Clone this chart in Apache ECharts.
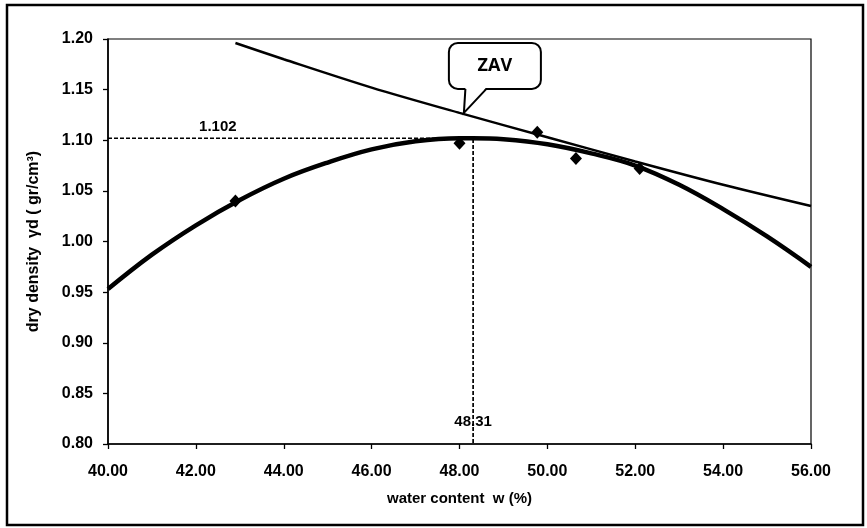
<!DOCTYPE html>
<html>
<head>
<meta charset="utf-8">
<script src="https://cdn.jsdelivr.net/npm/echarts@6/dist/echarts.min.js"></script>
<style>
  html, body { margin: 0; padding: 0; background: #fff; }
  #chart { width: 867px; height: 528px; }
</style>
</head>
<body>
<div id="chart"></div>
<script>
// Compaction test: measured points
const testW = [42.9, 48.0, 49.77, 50.65, 52.1];
const testDensity = [1.040, 1.097, 1.108, 1.082, 1.072];

// Fitted compaction curve, read at each water content
const curveW = [40, 41, 42, 43, 44, 45, 46, 47, 48, 48.31, 49, 50, 51, 52, 53, 54, 55, 56];
const curveDensity = [0.953, 0.987, 1.016, 1.041, 1.062, 1.078, 1.091, 1.099, 1.102, 1.102, 1.101, 1.096, 1.087, 1.075, 1.056, 1.032, 1.005, 0.975];

// Zero air voids line
const zavW = [42.9, 44, 46, 48, 50, 52, 54, 56];
const zavDensity = [1.196, 1.180, 1.152, 1.127, 1.103, 1.079, 1.056, 1.035];

// Optimum point (maximum dry density and optimum water content)
const optW = 48.31;
const optDensity = 1.102;

// Axis ticks
const xTicks = [40, 42, 44, 46, 48, 50, 52, 54, 56];
const yTicks = [0.80, 0.85, 0.90, 0.95, 1.00, 1.05, 1.10, 1.15, 1.20];

const FONT = '"Liberation Sans", Arial, sans-serif';
const zip = (a, b) => a.map((v, i) => [v, b[i]]);

const chart = echarts.init(document.getElementById('chart'), null, { renderer: 'canvas' });

const option = {
  backgroundColor: '#ffffff',
  animation: false,
  grid: {
    left: 108, right: 56, top: 39, bottom: 84,
    show: true, borderColor: '#000', borderWidth: 1.2, backgroundColor: 'transparent'
  },
  xAxis: {
    type: 'value',
    min: xTicks[0], max: xTicks[xTicks.length - 1], interval: 2,
    name: 'water content  w (%)',
    nameLocation: 'middle', nameGap: 47,
    nameTextStyle: { fontFamily: FONT, fontWeight: 'bold', fontSize: 15, color: '#000' },
    axisLine: { show: true, lineStyle: { color: '#000', width: 1.6 } },
    axisTick: { show: true, inside: false, length: 5, lineStyle: { color: '#000', width: 1.3 } },
    axisLabel: {
      margin: 20, fontFamily: FONT, fontWeight: 'bold', fontSize: 16, color: '#000',
      formatter: v => v.toFixed(2)
    },
    splitLine: { show: false }
  },
  yAxis: {
    type: 'value',
    min: yTicks[0], max: yTicks[yTicks.length - 1], interval: 0.05,
    name: 'dry density  γd ( gr/cm³)',
    nameLocation: 'middle', nameGap: 66, nameRotate: 90,
    nameTextStyle: { fontFamily: FONT, fontWeight: 'bold', fontSize: 16, color: '#000' },
    axisLine: { show: true, lineStyle: { color: '#000', width: 1.6 } },
    axisTick: { show: true, inside: false, length: 5, lineStyle: { color: '#000', width: 1.3 } },
    axisLabel: {
      margin: 15, fontFamily: FONT, fontWeight: 'bold', fontSize: 16, color: '#000',
      formatter: v => v.toFixed(2)
    },
    splitLine: { show: false }
  },
  series: [
    {
      name: 'optimum guides',
      type: 'line',
      data: [[xTicks[0], optDensity], [optW, optDensity], [optW, yTicks[0]]],
      symbol: 'none',
      lineStyle: { color: '#000', width: 1.7, type: [4, 2] },
      z: 2
    },
    {
      name: 'ZAV',
      type: 'line',
      data: zip(zavW, zavDensity),
      smooth: 0.3,
      symbol: 'none',
      lineStyle: { color: '#000', width: 2.5 },
      z: 3
    },
    {
      name: 'compaction curve',
      type: 'line',
      data: zip(curveW, curveDensity),
      smooth: 0.4,
      symbol: 'none',
      lineStyle: { color: '#000', width: 4.5 },
      z: 4
    },
    {
      name: 'test points',
      type: 'scatter',
      data: zip(testW, testDensity),
      symbol: 'diamond',
      symbolSize: [12, 13],
      itemStyle: { color: '#000', opacity: 1 },
      z: 5
    }
  ]
};

chart.setOption(option);

// Value labels for the optimum, placed through the grid's coordinate system
const toPx = p => chart.convertToPixel({ gridIndex: 0 }, p);
const densityLabelPos = toPx([42.5, optDensity]);
const waterLabelPos = toPx([optW, 0.822]);
// Callout bubble for the ZAV line, anchored to a point on the line
const tip = toPx([48.1, 1.127]);

const valueFont = 'bold 15px "Liberation Sans", Arial, sans-serif';

chart.setOption({
  graphic: [
    {
      type: 'rect',
      shape: { x: 7, y: 5, width: 856, height: 520 },
      style: { fill: 'none', stroke: '#000', lineWidth: 2.5 },
      silent: true
    },
    {
      type: 'text',
      x: densityLabelPos[0], y: densityLabelPos[1] - 11,
      z: 20,
      style: { text: optDensity.toFixed(3), font: valueFont, fill: '#000', align: 'center', verticalAlign: 'middle' }
    },
    {
      type: 'text',
      x: waterLabelPos[0], y: waterLabelPos[1],
      z: 20,
      style: { text: optW.toFixed(2), font: valueFont, fill: '#000', align: 'center', verticalAlign: 'middle' }
    },
    {
      type: 'group',
      x: tip[0], y: tip[1],
      z: 10,
      children: [
        {
          type: 'rect',
          shape: { x: -15, y: -70, width: 92, height: 46, r: 9 },
          style: { fill: '#fff', stroke: '#000', lineWidth: 2 }
        },
        {
          type: 'polygon',
          shape: { points: [[1.5, -25.5], [0, 0], [22.5, -25.5]] },
          style: { fill: '#fff', stroke: 'none' }
        },
        {
          type: 'polyline',
          shape: { points: [[1.5, -24], [0, 0], [22.5, -24]] },
          style: { fill: 'none', stroke: '#000', lineWidth: 2 }
        },
        {
          type: 'text',
          x: 31, y: -47,
          style: {
            text: 'ZAV', fill: '#000', font: 'bold 18px "Open Sans", "Noto Sans", sans-serif',
            align: 'center', verticalAlign: 'middle'
          }
        }
      ]
    }
  ]
});
</script>
</body>
</html>
